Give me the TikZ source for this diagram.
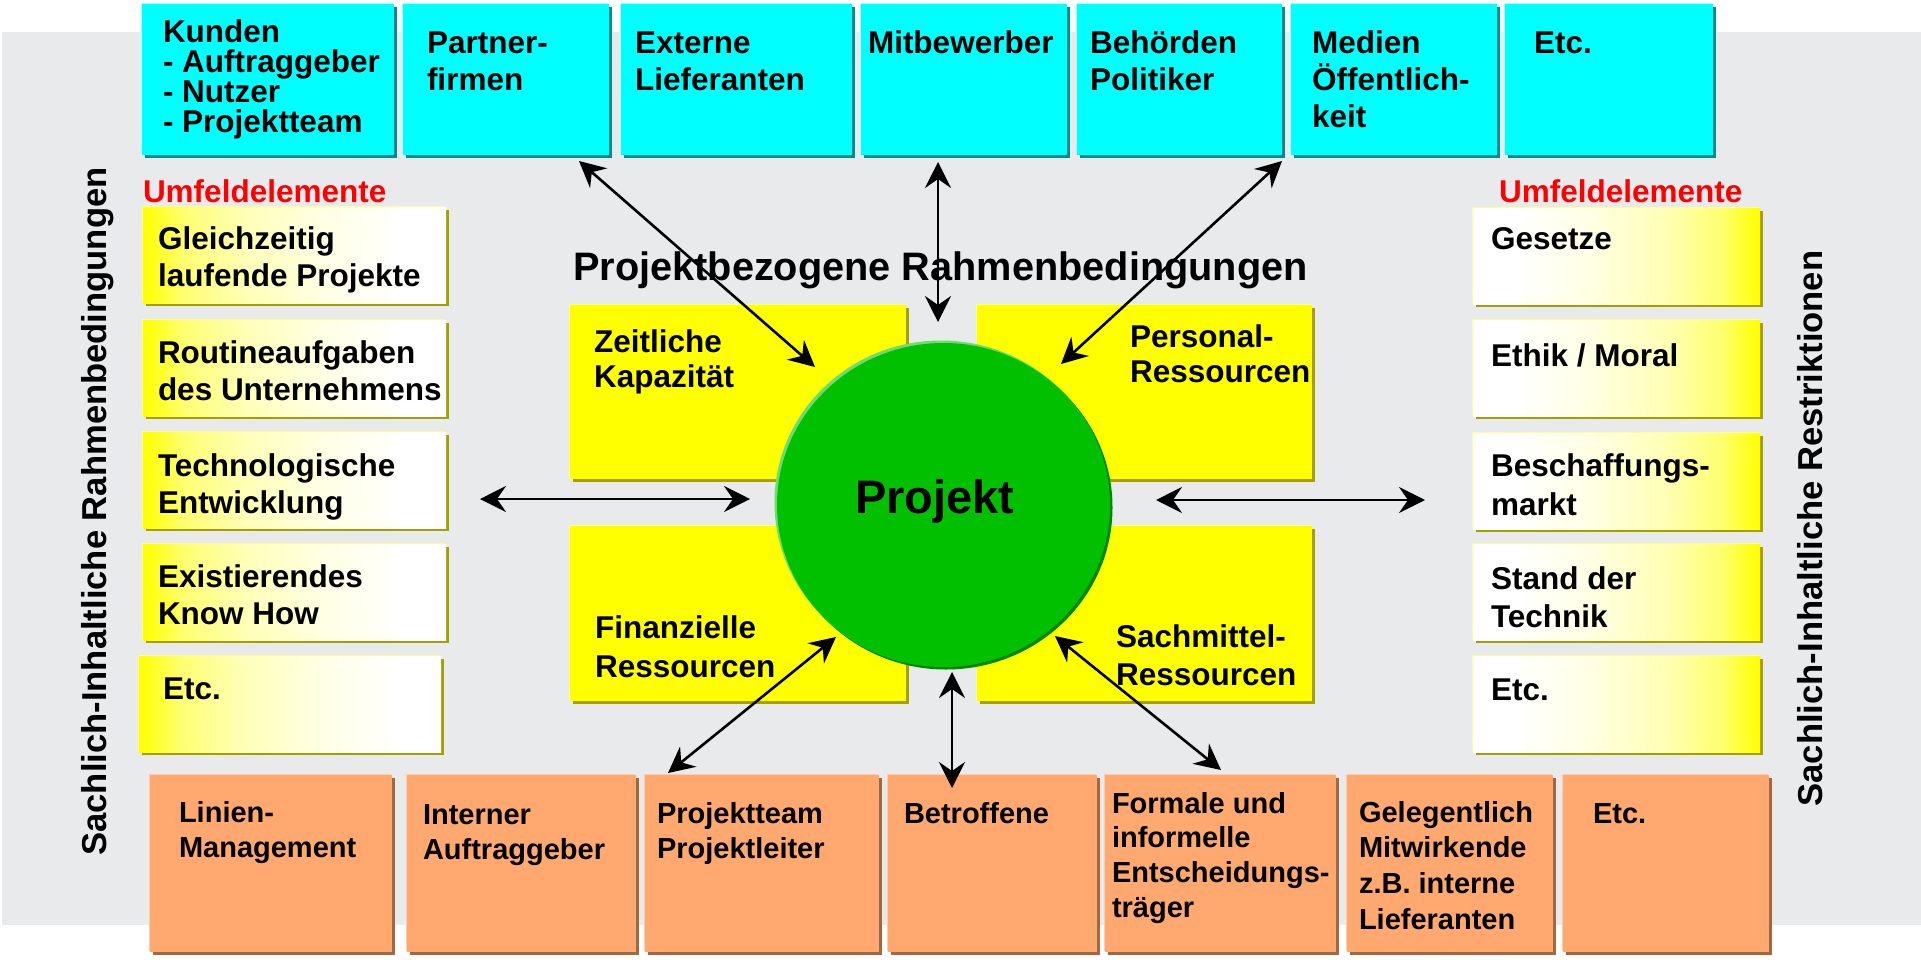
\documentclass[tikz,border=0pt]{standalone}
\usepackage{fontspec}
\setmainfont{Liberation Sans}
\usetikzlibrary{arrows.meta,shapes.geometric}

\definecolor{bggray}{RGB}{233,234,236}
\definecolor{cyanfill}{RGB}{0,255,255}
\definecolor{cyansh}{RGB}{0,140,140}
\definecolor{cyanhi}{RGB}{170,255,255}
\definecolor{yelfill}{RGB}{255,255,0}
\definecolor{yelsh}{RGB}{165,160,0}
\definecolor{yelhi}{RGB}{255,255,150}
\definecolor{orfill}{RGB}{255,169,112}
\definecolor{orsh}{RGB}{160,105,65}
\definecolor{orhi}{RGB}{255,205,170}
\definecolor{grnfill}{RGB}{0,192,0}
\definecolor{grnhi}{RGB}{110,220,110}
\definecolor{grnsh}{RGB}{0,135,0}
\definecolor{redtxt}{RGB}{255,0,0}
\colorlet{ywA}{yelfill!55!white}
\colorlet{ywB}{yelfill!28!white}
\colorlet{ywC}{yelfill!10!white}

\pgfdeclarehorizontalshading{ywshade}{100bp}{color(0bp)=(yelfill); color(25bp)=(yelfill); color(32bp)=(ywA); color(42bp)=(ywB); color(55bp)=(ywC); color(68bp)=(white); color(100bp)=(white)}
\pgfdeclarehorizontalshading{wyshade}{100bp}{color(0bp)=(white); color(32bp)=(white); color(45bp)=(ywC); color(58bp)=(ywB); color(68bp)=(ywA); color(75bp)=(yelfill); color(100bp)=(yelfill)}

\newcommand\fstrut{\rule{0pt}{1em}}

\tikzset{
  boxbase/.style n args={3}{rectangle, inner sep=0pt, outer sep=0pt, anchor=north west,
    preaction={fill=#2, transform canvas={xshift=3pt,yshift=-3pt}},
    preaction={fill=#3, transform canvas={xshift=-1.5pt,yshift=1.5pt}},
    fill=#1},
  cybox/.style={boxbase={cyanfill}{cyansh}{cyanhi}, minimum height=151pt},
  ycbox/.style={boxbase={yelfill}{yelsh}{yelhi}},
  orbox/.style={boxbase={orfill}{orsh}{orhi}, minimum height=177pt},
  sideL/.style={rectangle, inner sep=0pt, outer sep=0pt, anchor=north west,
    preaction={fill=yelsh, transform canvas={xshift=3pt,yshift=-3pt}},
    preaction={fill=yelhi, transform canvas={xshift=-1.5pt,yshift=1.5pt}},
    shading=ywshade, minimum height=96pt},
  sideR/.style={rectangle, inner sep=0pt, outer sep=0pt, anchor=north west,
    preaction={fill=yelsh, transform canvas={xshift=3pt,yshift=-3pt}},
    preaction={fill=yelhi, transform canvas={xshift=-1.5pt,yshift=1.5pt}},
    shading=wyshade, minimum height=96pt},
  tx/.style 2 args={anchor=north west, inner sep=0pt, outer sep=0pt, align=left,
    yshift=#1pt, font=\bfseries\fontsize{#1}{#2}\selectfont},
  arr/.style={line width=2.6pt, {Stealth[length=26pt,width=26pt,inset=9pt]}-{Stealth[length=26pt,width=26pt,inset=9pt]}},
}

\begin{document}
\begin{tikzpicture}[x=1pt,y=-1pt]
\useasboundingbox (0,0) rectangle (1921,959);
\fill[white] (0,0) rectangle (1921,959);
\fill[bggray] (2,32) rectangle (1921,925);

% top cyan boxes
\node[cybox, minimum width=252pt] (kunden) at (142,4) {};
\node[cybox, minimum width=206pt] (partner) at (403,4) {};
\node[cybox, minimum width=231pt] (extern) at (621,4) {};
\node[cybox, minimum width=206pt] (mitbew) at (861,4) {};
\node[cybox, minimum width=205pt] (behoerd) at (1077,4) {};
\node[cybox, minimum width=206pt] (medien) at (1291,4) {};
\node[cybox, minimum width=208pt] (etcoben) at (1505,4) {};

\node[tx={31.5}{30.3}] (tkunden) at (163,42) {\fstrut Kunden\\- Auftraggeber\\- Nutzer\\- Projektteam};
\node[tx={31.5}{37}] (tpartner) at (427,53) {\fstrut Partner-\\firmen};
\node[tx={31.5}{37}] (textern) at (635,53) {\fstrut Externe\\Lieferanten};
\node[tx={31.5}{37}] (tmitbew) at (868,53) {\fstrut Mitbewerber};
\node[tx={31.5}{37}] (tbehoerd) at (1090,53) {\fstrut Behörden\\Politiker};
\node[tx={31.5}{37}] (tmedien) at (1312,53) {\fstrut Medien\\Öffentlich-\\keit};
\node[tx={31.5}{37}] (tetcoben) at (1534,53) {\fstrut Etc.};

% Umfeldelemente labels
\node[tx={31.5}{37}, text=redtxt] (umfL) at (143,202) {\fstrut Umfeldelemente};
\node[tx={31.5}{37}, text=redtxt] (umfR) at (1499,202) {\fstrut Umfeldelemente};

% left side boxes
\node[sideL, minimum width=303pt] (l1) at (143,207) {};
\node[sideL, minimum width=303pt] (l2) at (143,320) {};
\node[sideL, minimum width=303pt] (l3) at (143,432) {};
\node[sideL, minimum width=303pt] (l4) at (143,544) {};
\node[sideL, minimum width=302pt] (l5) at (139,656) {};
\node[tx={31.5}{37}] (tl1) at (158,249) {\fstrut Gleichzeitig\\laufende Projekte};
\node[tx={31.5}{37}] (tl2) at (158,363) {\fstrut Routineaufgaben\\des Unternehmens};
\node[tx={31.5}{37}] (tl3) at (158,476) {\fstrut Technologische\\Entwicklung};
\node[tx={31.5}{37}] (tl4) at (158,587) {\fstrut Existierendes\\Know How};
\node[tx={31.5}{37}] (tl5) at (163,699) {\fstrut Etc.};

% right side boxes
\node[sideR, minimum width=287pt] (r1) at (1473,208) {};
\node[sideR, minimum width=287pt] (r2) at (1473,320) {};
\node[sideR, minimum width=287pt] (r3) at (1473,433) {};
\node[sideR, minimum width=287pt] (r4) at (1473,544) {};
\node[sideR, minimum width=287pt] (r5) at (1473,656) {};
\node[tx={31.5}{39}] (tr1) at (1491,249) {\fstrut Gesetze};
\node[tx={31.5}{39}] (tr2) at (1491,366) {\fstrut Ethik / Moral};
\node[tx={31.5}{39.5}] (tr3) at (1491,476) {\fstrut Beschaffungs-\\markt};
\node[tx={31.5}{38.5}] (tr4) at (1491,589) {\fstrut Stand der\\Technik};
\node[tx={31.5}{39}] (tr5) at (1491,700) {\fstrut Etc.};

% side titles
\node[rotate=90, anchor=base, inner sep=0pt, font=\bfseries\fontsize{34.6}{40}\selectfont] (ltitle) at (106,511.5) {Sachlich-Inhaltliche Rahmenbedingungen};
\node[rotate=90, anchor=base, inner sep=0pt, font=\bfseries\fontsize{34.6}{40}\selectfont] (rtitle) at (1822,528.5) {Sachlich-Inhaltliche Restriktionen};

% title
\node[anchor=base west, inner sep=0pt, font=\bfseries\fontsize{39.7}{46}\selectfont] (title) at (573,280) {Projektbezogene Rahmenbedingungen};

% center boxes
\node[ycbox, minimum width=336pt, minimum height=174pt] (zeit) at (570,305) {};
\node[ycbox, minimum width=335pt, minimum height=174pt] (pers) at (977,305) {};
\node[ycbox, minimum width=336pt, minimum height=175pt] (fin) at (570,526) {};
\node[ycbox, minimum width=335pt, minimum height=175pt] (sach) at (977,526) {};
\node[tx={31.5}{35}] (tzeit) at (594,352) {\fstrut Zeitliche\\Kapazität};
\node[tx={31.5}{35}] (tpers) at (1130,347) {\fstrut Personal-\\Ressourcen};
\node[tx={31.5}{39}] (tfin) at (595,638) {\fstrut Finanzielle\\Ressourcen};
\node[tx={31.5}{38}] (tsach) at (1116,647) {\fstrut Sachmittel-\\Ressourcen};

% project circle
\node[ellipse, inner sep=0pt, minimum width=333pt, minimum height=324pt, fill=grnfill,
  preaction={fill=grnsh, transform canvas={xshift=2.5pt,yshift=-2.5pt}},
  preaction={fill=grnhi, transform canvas={xshift=-2.5pt,yshift=2.5pt}}] (proj) at (943.5,505) {};
\node[anchor=base west, inner sep=0pt, font=\bfseries\fontsize{47}{54}\selectfont] (tproj) at (855,513) {Projekt};

% bottom orange boxes
\node[orbox, minimum width=242pt] (linien) at (150,775) {};
\node[orbox, minimum width=229pt] (intern) at (407,775) {};
\node[orbox, minimum width=234pt] (pteam) at (645,775) {};
\node[orbox, minimum width=209pt] (betr) at (888,775) {};
\node[orbox, minimum width=231pt] (formal) at (1105,775) {};
\node[orbox, minimum width=206pt] (geleg) at (1347,775) {};
\node[orbox, minimum width=206pt] (etcunten) at (1563,775) {};
\node[tx={29}{35.5}] (tlinien) at (179,822) {\fstrut Linien-\\Management};
\node[tx={29}{35.5}] (tintern) at (423,824) {\fstrut Interner\\Auftraggeber};
\node[tx={29}{35.5}] (tpteam) at (657,823) {\fstrut Projektteam\\Projektleiter};
\node[tx={29}{35.5}] (tbetr) at (904,823) {\fstrut Betroffene};
\node[tx={29}{34.7}] (tformal) at (1112,813) {\fstrut Formale und\\informelle\\Entscheidungs-\\träger};
\node[tx={29}{35.7}] (tgeleg) at (1359,822) {\fstrut Gelegentlich\\Mitwirkende\\z.B. interne\\Lieferanten};
\node[tx={29}{35.5}] (tetcunten) at (1593,823) {\fstrut Etc.};

% arrow end points
\coordinate (a1s) at (579,161);
\coordinate (a1e) at (815,367);
\coordinate (a2s) at (938,162);
\coordinate (a2e) at (938,322);
\coordinate (a3s) at (1282,161);
\coordinate (a3e) at (1061,364);
\coordinate (a4s) at (480,499);
\coordinate (a4e) at (750,499);
\coordinate (a5s) at (1156,500);
\coordinate (a5e) at (1425,500);
\coordinate (a6s) at (668,773);
\coordinate (a6e) at (836,637);
\coordinate (a7s) at (952,788);
\coordinate (a7e) at (952,672);
\coordinate (a8s) at (1221,770);
\coordinate (a8e) at (1055,636);

\draw[arr] (a1s) -- (a1e);
\draw[arr] (a2s) -- (a2e);
\draw[arr] (a3s) -- (a3e);
\draw[arr] (a4s) -- (a4e);
\draw[arr] (a5s) -- (a5e);
\draw[arr] (a6s) -- (a6e);
\draw[arr] (a7s) -- (a7e);
\draw[arr] (a8s) -- (a8e);
\end{tikzpicture}
\end{document}
